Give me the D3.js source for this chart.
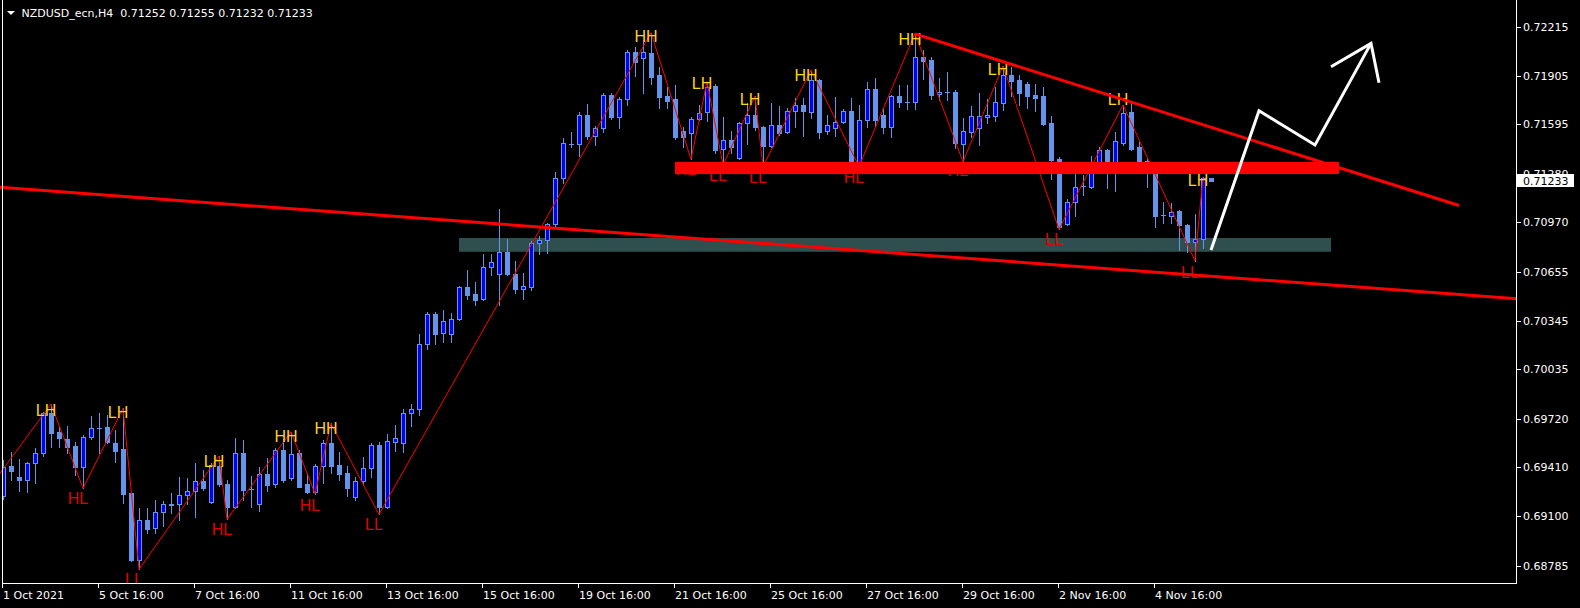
<!DOCTYPE html>
<html>
<head>
<meta charset="utf-8">
<script src="https://cdn.jsdelivr.net/npm/d3@7"></script>
<style>
  html, body { margin: 0; padding: 0; background: #000; }
  svg { display: block; }
  text { font-family: "DejaVu Sans", sans-serif; }
</style>
</head>
<body>
<svg id="chart" width="1580" height="608"></svg>
<script>
// NZDUSD H4 candles, one entry per bar (bar 0 = 1 Oct 2021 16:00)
const symbol = 'NZDUSD_ecn,H4';

const opens = [
  0.69230, 0.69419, 0.69349, 0.69332, 0.69436, 0.69500, 0.69755, 0.69637, 0.69591, 0.69546,
  0.69411, 0.69602, 0.69663, 0.69667, 0.69567, 0.69527, 0.69245, 0.68820, 0.69075, 0.69022,
  0.69124, 0.69174, 0.69175, 0.69232, 0.69258, 0.69324, 0.69192, 0.69419, 0.69304, 0.69160,
  0.69504, 0.69270, 0.69175, 0.69368, 0.69302, 0.69521, 0.69341, 0.69504, 0.69304, 0.69255,
  0.69419, 0.69564, 0.69425, 0.69372, 0.69224, 0.69322, 0.69404, 0.69553, 0.69160, 0.69574,
  0.69564, 0.69755, 0.69780, 0.70194, 0.70385, 0.70264, 0.70258, 0.70357, 0.70557, 0.70514,
  0.70480, 0.70688, 0.70640, 0.70780, 0.70640, 0.70548, 0.70561, 0.70837, 0.70856, 0.70958,
  0.71251, 0.71470, 0.71467, 0.71654, 0.71518, 0.71569, 0.71781, 0.71643, 0.71754, 0.72053,
  0.72015, 0.72049, 0.71909, 0.71775, 0.71754, 0.71552, 0.71537, 0.71626, 0.71671, 0.71838,
  0.71435, 0.71495, 0.71378, 0.71601, 0.71652, 0.71576, 0.71458, 0.71588, 0.71544, 0.71679,
  0.71716, 0.71675, 0.71877, 0.71550, 0.71569, 0.71609, 0.71679, 0.71331, 0.71622, 0.71819,
  0.71652, 0.71579, 0.71775, 0.71736, 0.71735, 0.72021, 0.72004, 0.71788, 0.71799, 0.71802,
  0.71469, 0.71548, 0.71569, 0.71639, 0.71647, 0.71732, 0.71909, 0.71877, 0.71851, 0.71781,
  0.71775, 0.71601, 0.71374, 0.70958, 0.71102, 0.71201, 0.71197, 0.71340, 0.71431, 0.71346,
  0.71474, 0.71675, 0.71448, 0.71361, 0.71304, 0.71016, 0.71013, 0.71043, 0.70953, 0.70847,
  0.70864, 0.71252
];
const highs = [
  0.69457, 0.69510, 0.69464, 0.69444, 0.69532, 0.69765, 0.69814, 0.69669, 0.69676, 0.69574,
  0.69616, 0.69737, 0.69758, 0.69744, 0.69648, 0.69786, 0.69250, 0.69154, 0.69150, 0.69203,
  0.69196, 0.69245, 0.69347, 0.69343, 0.69440, 0.69394, 0.69436, 0.69483, 0.69330, 0.69595,
  0.69585, 0.69355, 0.69411, 0.69468, 0.69532, 0.69589, 0.69637, 0.69521, 0.69372, 0.69432,
  0.69585, 0.69691, 0.69510, 0.69419, 0.69351, 0.69474, 0.69567, 0.69574, 0.69623, 0.69678,
  0.69782, 0.69814, 0.70259, 0.70400, 0.70400, 0.70412, 0.70391, 0.70565, 0.70667, 0.70591,
  0.70769, 0.70769, 0.71055, 0.70864, 0.70726, 0.70648, 0.70852, 0.70883, 0.70966, 0.71293,
  0.71505, 0.71544, 0.71675, 0.71724, 0.71584, 0.71792, 0.71796, 0.71770, 0.72068, 0.72089,
  0.72131, 0.72178, 0.71961, 0.71834, 0.71845, 0.71579, 0.71643, 0.71718, 0.71866, 0.71851,
  0.71643, 0.71552, 0.71611, 0.71728, 0.71775, 0.71584, 0.71728, 0.71711, 0.71696, 0.71760,
  0.71760, 0.71940, 0.71881, 0.71654, 0.71766, 0.71690, 0.71760, 0.71718, 0.71864, 0.71888,
  0.71696, 0.71781, 0.71845, 0.71845, 0.72174, 0.72068, 0.72021, 0.71888, 0.71930, 0.71810,
  0.71637, 0.71713, 0.71796, 0.71756, 0.71834, 0.71966, 0.71958, 0.71909, 0.71866, 0.71849,
  0.71834, 0.71647, 0.71385, 0.71117, 0.71308, 0.71272, 0.71393, 0.71448, 0.71437, 0.71548,
  0.71718, 0.71728, 0.71484, 0.71374, 0.71310, 0.71098, 0.71092, 0.71049, 0.70960, 0.71022,
  0.71261, 0.71255
];
const lows = [
  0.69207, 0.69330, 0.69262, 0.69255, 0.69313, 0.69485, 0.69542, 0.69542, 0.69500, 0.69362,
  0.69277, 0.69591, 0.69500, 0.69564, 0.69446, 0.69182, 0.68814, 0.68761, 0.68991, 0.68994,
  0.69039, 0.69118, 0.69075, 0.69177, 0.69096, 0.69266, 0.69185, 0.69292, 0.69080, 0.69155,
  0.69203, 0.69160, 0.69134, 0.69262, 0.69283, 0.69319, 0.69330, 0.69285, 0.69245, 0.69243,
  0.69313, 0.69372, 0.69330, 0.69228, 0.69203, 0.69304, 0.69351, 0.69111, 0.69154, 0.69516,
  0.69510, 0.69674, 0.69744, 0.70164, 0.70198, 0.70210, 0.70210, 0.70349, 0.70484, 0.70446,
  0.70475, 0.70637, 0.70444, 0.70634, 0.70522, 0.70484, 0.70540, 0.70771, 0.70777, 0.70943,
  0.71219, 0.71448, 0.71395, 0.71499, 0.71461, 0.71548, 0.71626, 0.71573, 0.71718, 0.71902,
  0.71792, 0.71851, 0.71700, 0.71696, 0.71501, 0.71452, 0.71372, 0.71622, 0.71618, 0.71410,
  0.71334, 0.71410, 0.71374, 0.71469, 0.71558, 0.71325, 0.71452, 0.71526, 0.71537, 0.71579,
  0.71520, 0.71637, 0.71505, 0.71531, 0.71520, 0.71601, 0.71321, 0.71326, 0.71579, 0.71584,
  0.71537, 0.71512, 0.71703, 0.71692, 0.71692, 0.71881, 0.71756, 0.71749, 0.71749, 0.71442,
  0.71356, 0.71516, 0.71463, 0.71601, 0.71616, 0.71686, 0.71775, 0.71718, 0.71696, 0.71679,
  0.71590, 0.71244, 0.70926, 0.70953, 0.71013, 0.71144, 0.71187, 0.71304, 0.71191, 0.71170,
  0.71466, 0.71431, 0.71304, 0.71197, 0.70943, 0.70968, 0.70964, 0.70794, 0.70783, 0.70726,
  0.70805, 0.71232
];
const closes = [
  0.69415, 0.69389, 0.69332, 0.69436, 0.69500, 0.69755, 0.69631, 0.69599, 0.69542, 0.69411,
  0.69602, 0.69659, 0.69659, 0.69574, 0.69516, 0.69241, 0.68820, 0.69075, 0.69018, 0.69124,
  0.69175, 0.69176, 0.69232, 0.69258, 0.69322, 0.69281, 0.69425, 0.69304, 0.69160, 0.69500,
  0.69266, 0.69272, 0.69366, 0.69298, 0.69521, 0.69330, 0.69495, 0.69287, 0.69255, 0.69419,
  0.69564, 0.69419, 0.69370, 0.69277, 0.69322, 0.69404, 0.69553, 0.69160, 0.69578, 0.69595,
  0.69755, 0.69782, 0.70194, 0.70385, 0.70261, 0.70342, 0.70353, 0.70557, 0.70510, 0.70478,
  0.70688, 0.70716, 0.70780, 0.70640, 0.70548, 0.70563, 0.70837, 0.70856, 0.70958, 0.71251,
  0.71474, 0.71472, 0.71654, 0.71520, 0.71569, 0.71781, 0.71643, 0.71754, 0.72053, 0.71993,
  0.72057, 0.71898, 0.71770, 0.71745, 0.71514, 0.71516, 0.71626, 0.71668, 0.71834, 0.71431,
  0.71495, 0.71452, 0.71601, 0.71652, 0.71579, 0.71456, 0.71588, 0.71537, 0.71679, 0.71716,
  0.71681, 0.71877, 0.71548, 0.71588, 0.71609, 0.71679, 0.71331, 0.71622, 0.71819, 0.71622,
  0.71579, 0.71775, 0.71739, 0.71738, 0.72021, 0.71999, 0.71781, 0.71802, 0.71801, 0.71474,
  0.71552, 0.71647, 0.71647, 0.71654, 0.71737, 0.71909, 0.71872, 0.71796, 0.71775, 0.71764,
  0.71597, 0.71367, 0.70943, 0.71098, 0.71197, 0.71203, 0.71340, 0.71431, 0.71346, 0.71488,
  0.71665, 0.71439, 0.71356, 0.71299, 0.71013, 0.71018, 0.71038, 0.70953, 0.70847, 0.70864,
  0.71251, 0.71233
];

// axes
const priceTicks = [0.72215, 0.71905, 0.71595, 0.71280, 0.70970, 0.70655, 0.70345, 0.70035, 0.69720, 0.69410, 0.69100, 0.68785];
const timeLabelBars = [0, 12, 24, 36, 48, 60, 72, 84, 96, 108, 120, 132, 144];
const timeLabels = ['1 Oct 2021', '5 Oct 16:00', '7 Oct 16:00', '11 Oct 16:00', '13 Oct 16:00', '15 Oct 16:00',
  '19 Oct 16:00', '21 Oct 16:00', '25 Oct 16:00', '27 Oct 16:00', '29 Oct 16:00', '2 Nov 16:00', '4 Nov 16:00'];

// zigzag swing points
const zigzagBars = [-1, 6, 10, 15, 17, 27, 28, 36, 39, 41, 47, 81, 86, 88, 90, 94, 95, 101, 107, 114, 120, 125, 132, 140, 149, 150];
const zigzagPrices = [0.69330, 0.69814, 0.69277, 0.69786, 0.68761, 0.69483, 0.69080, 0.69637, 0.69243, 0.69691, 0.69111,
  0.72178, 0.71372, 0.71866, 0.71334, 0.71775, 0.71325, 0.71940, 0.71326, 0.72174, 0.71356, 0.71966, 0.70926,
  0.71718, 0.70726, 0.71261];

// swing labels (price = top of the text)
const labelBars = [6, 10, 15, 17, 27, 28, 36, 39, 41, 47, 81, 86, 88, 90, 94, 95, 101, 107, 114, 120, 125, 132, 140, 149, 150];
const labelTexts = ['LH', 'HL', 'LH', 'LL', 'LH', 'HL', 'HH', 'HL', 'HH', 'LL', 'HH', 'HL', 'LH', 'LL', 'LH', 'LL',
  'HH', 'HL', 'HH', 'HL', 'LH', 'LL', 'LH', 'LL', 'LH'];
const labelPrices = [0.69814, 0.69252, 0.69797, 0.68738, 0.69489, 0.69054, 0.69644, 0.69207, 0.69695, 0.69086,
  0.72191, 0.71342, 0.71894, 0.71304, 0.71788, 0.71297, 0.71945, 0.71293, 0.72174, 0.71336, 0.71979, 0.70901,
  0.71788, 0.70692, 0.71272];

// drawn objects
const supportBars = [0, 150];
const supportPrices = [0.71192, 0.70631];
const resistanceBars = [114, 182];
const resistancePrices = [0.72170, 0.71078];
const redZoneBars = [84, 167];
const redZonePrices = [0.71355, 0.71278];
const greyZoneBars = [57, 166];
const greyZonePrices = [0.70871, 0.70783];
const arrowBars = [151, 157, 164, 171];
const arrowPrices = [0.70794, 0.71681, 0.71463, 0.72110];
const arrowHeadBars = [166, 171, 172];
const arrowHeadPrices = [0.71961, 0.72110, 0.71859];

// 1. Dimensions and scales.
const plotRight = 1516.5;
const plotBottom = 583.5;
const upCol = '#0000ff';
const wickCol = '#6495ed';

const x = d3.scaleLinear().domain([0, 151]).range([3, 1211]);
const y = d3.scaleLinear().domain([0.68670, 0.72386]).range([583.7, 0]);

const svg = d3.select('#chart');
svg.append('rect').attr('width', 1580).attr('height', 608).attr('fill', '#000');

const defs = svg.append('defs');
defs.append('clipPath').attr('id', 'plot')
  .append('rect').attr('x', 0).attr('y', 0).attr('width', plotRight).attr('height', plotBottom);
defs.append('clipPath').attr('id', 'bars')
  .append('rect').attr('x', 3).attr('y', 0).attr('width', plotRight - 3).attr('height', plotBottom);

// 2. Background zone.
svg.append('rect')
  .attr('clip-path', 'url(#plot)')
  .attr('x', x(greyZoneBars[0]))
  .attr('y', y(greyZonePrices[0]))
  .attr('width', x(greyZoneBars[1]) - x(greyZoneBars[0]))
  .attr('height', y(greyZonePrices[1]) - y(greyZonePrices[0]))
  .attr('fill', '#2f4f4f');

// 3. Candles.
const bars = svg.append('g').attr('clip-path', 'url(#bars)').attr('shape-rendering', 'crispEdges');
const idx = d3.range(opens.length);

bars.selectAll('line.wick')
  .data(idx)
  .enter()
  .append('line')
  .attr('class', 'wick')
  .attr('x1', i => Math.round(x(i)) + 0.5)
  .attr('x2', i => Math.round(x(i)) + 0.5)
  .attr('y1', i => Math.round(y(highs[i])))
  .attr('y2', i => Math.round(y(lows[i])) + 1)
  .attr('stroke', wickCol);

bars.selectAll('g.body')
  .data(idx)
  .enter()
  .append('g')
  .each(function (i) {
    const g = d3.select(this);
    const cx = Math.round(x(i));
    const top = Math.round(y(Math.max(opens[i], closes[i])));
    const bot = Math.round(y(Math.min(opens[i], closes[i])));
    const up = closes[i] > opens[i];
    if (bot - top < 1) {
      g.append('line')
        .attr('x1', cx - 2).attr('x2', cx + 3)
        .attr('y1', top + 0.5).attr('y2', top + 0.5)
        .attr('stroke', wickCol);
    } else {
      g.append('rect')
        .attr('x', cx - 1.5).attr('y', top + 0.5)
        .attr('width', 4).attr('height', bot - top)
        .attr('fill', up ? upCol : wickCol)
        .attr('stroke', wickCol);
    }
  });

// 4. Zigzag and labels.
const plot = svg.append('g').attr('clip-path', 'url(#plot)');

plot.append('path')
  .attr('d', d3.line().x(d => x(d[0])).y(d => y(d[1]))(zigzagBars.map((b, k) => [b, zigzagPrices[k]])))
  .attr('fill', 'none')
  .attr('stroke', '#ff0000')
  .attr('stroke-width', 1);

plot.selectAll('text.swing')
  .data(labelBars.map((b, k) => ({ b, t: labelTexts[k], p: labelPrices[k] })))
  .enter()
  .append('text')
  .attr('x', d => x(d.b) - 5)
  .attr('y', d => y(d.p) + 11.5)
  .attr('text-anchor', 'middle')
  .style('font-family', '"Liberation Sans", Arial, sans-serif')
  .style('font-size', '16px')
  .attr('fill', d => d.t[1] === 'H' ? '#ffd700' : '#e00000')
  .text(d => d.t);

// 5. Drawn objects on top.
plot.append('rect')
  .attr('x', x(redZoneBars[0]))
  .attr('y', y(redZonePrices[0]))
  .attr('width', x(redZoneBars[1]) - x(redZoneBars[0]))
  .attr('height', y(redZonePrices[1]) - y(redZonePrices[0]))
  .attr('fill', '#ff0000');

// support ray spans the whole plot
const slope = (supportPrices[1] - supportPrices[0]) / (supportBars[1] - supportBars[0]);
const bL = x.invert(0);
const bR = x.invert(plotRight + 2);
plot.append('line')
  .attr('x1', x(bL)).attr('y1', y(supportPrices[0] + slope * (bL - supportBars[0])))
  .attr('x2', x(bR)).attr('y2', y(supportPrices[0] + slope * (bR - supportBars[0])))
  .attr('stroke', '#ff0000')
  .attr('stroke-width', 3);

plot.append('line')
  .attr('x1', x(resistanceBars[0])).attr('y1', y(resistancePrices[0]))
  .attr('x2', x(resistanceBars[1])).attr('y2', y(resistancePrices[1]))
  .attr('stroke', '#ff0000')
  .attr('stroke-width', 3);

plot.append('path')
  .attr('d', d3.line().x(d => x(d[0])).y(d => y(d[1]))(arrowBars.map((b, k) => [b, arrowPrices[k]])))
  .attr('fill', 'none')
  .attr('stroke', '#fff')
  .attr('stroke-width', 3);

plot.append('path')
  .attr('d', d3.line().x(d => x(d[0])).y(d => y(d[1]))(arrowHeadBars.map((b, k) => [b, arrowHeadPrices[k]])))
  .attr('fill', 'none')
  .attr('stroke', '#fff')
  .attr('stroke-width', 3);

// 6. Frame and axes.
const frame = svg.append('g').attr('stroke', '#fff').attr('shape-rendering', 'crispEdges');
frame.append('line').attr('x1', 2.5).attr('x2', 2.5).attr('y1', 0).attr('y2', plotBottom);
frame.append('line').attr('x1', plotRight).attr('x2', plotRight).attr('y1', 0).attr('y2', plotBottom + 0.5);
frame.append('line').attr('x1', 2).attr('x2', plotRight + 0.5).attr('y1', plotBottom).attr('y2', plotBottom);

frame.selectAll('line.pt')
  .data(priceTicks)
  .enter()
  .append('line')
  .attr('x1', plotRight).attr('x2', plotRight + 4)
  .attr('y1', d => Math.round(y(d)) + 0.5).attr('y2', d => Math.round(y(d)) + 0.5);

frame.selectAll('line.tt')
  .data(timeLabelBars)
  .enter()
  .append('line')
  .attr('x1', d => Math.round(x(d)) - 0.5).attr('x2', d => Math.round(x(d)) - 0.5)
  .attr('y1', plotBottom).attr('y2', plotBottom + 4);

svg.selectAll('text.price')
  .data(priceTicks)
  .enter()
  .append('text')
  .attr('x', 1523)
  .attr('y', d => y(d) + 4)
  .attr('fill', '#fff')
  .style('font-size', '11px')
  .text(d => d.toFixed(5));

svg.selectAll('text.time')
  .data(timeLabelBars)
  .enter()
  .append('text')
  .attr('x', d => x(d))
  .attr('y', 599)
  .attr('fill', '#fff')
  .style('font-size', '11px')
  .text((d, k) => timeLabels[k]);

// current price tag
const last = closes.length - 1;
const lastY = y(closes[last]);
svg.append('rect')
  .attr('x', plotRight + 0.5).attr('y', Math.round(lastY) - 7)
  .attr('width', 57).attr('height', 13)
  .attr('fill', '#fff');
svg.append('line')
  .attr('x1', plotRight).attr('x2', plotRight + 4)
  .attr('y1', Math.round(lastY) + 0.5).attr('y2', Math.round(lastY) + 0.5)
  .attr('stroke', '#fff');
svg.append('text')
  .attr('x', 1523).attr('y', lastY + 4)
  .attr('fill', '#000')
  .style('font-size', '11px')
  .text(closes[last].toFixed(5));

// title
svg.append('path').attr('d', 'M7,11 L15,11 L11,15 Z').attr('fill', '#fff');
svg.append('text')
  .attr('x', 21.5).attr('y', 16.7)
  .attr('fill', '#fff')
  .style('font-size', '11px')
  .style('white-space', 'pre')
  .text(symbol + '  ' + [opens[last], highs[last], lows[last], closes[last]].map(v => v.toFixed(5)).join(' '));
</script>
</body>
</html>
